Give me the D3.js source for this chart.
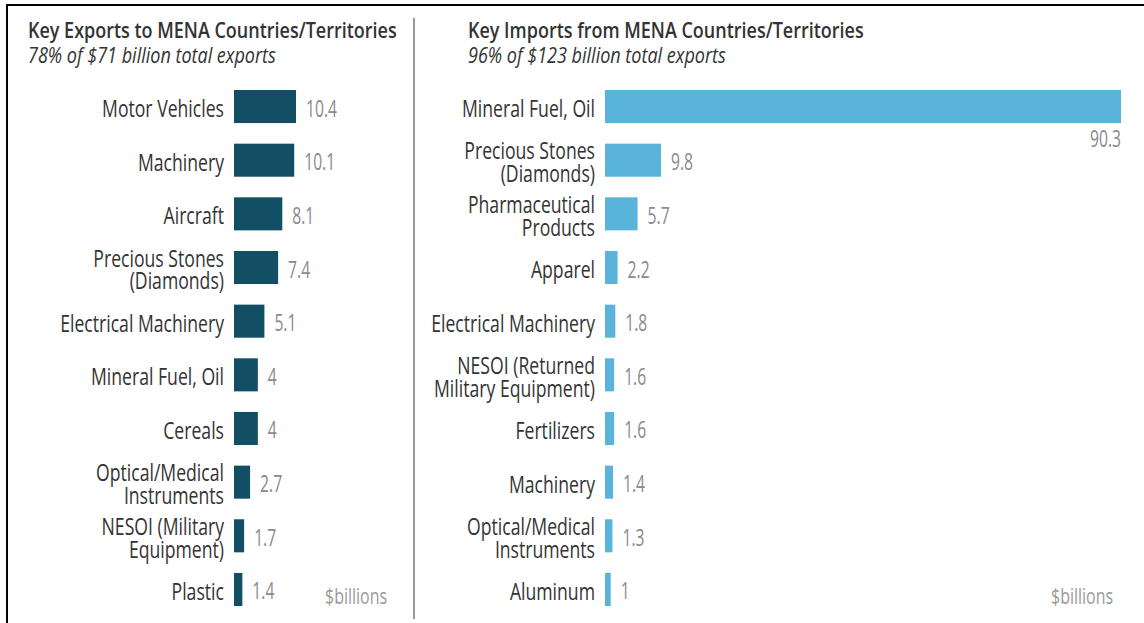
<!DOCTYPE html>
<html>
<head>
<meta charset="utf-8">
<script src="https://cdn.jsdelivr.net/npm/d3@7"></script>
<style>
  html, body { margin: 0; padding: 0; background: #fff; }
  svg { display: block; }
  text { font-family: "Open Sans", "Noto Sans", sans-serif; }
</style>
</head>
<body>
<svg id="chart" width="1144" height="623"></svg>
<script>
// ---- data ----
const exportCategories = ["Motor Vehicles", "Machinery", "Aircraft", "Precious Stones|(Diamonds)", "Electrical  Machinery", "Mineral Fuel, Oil", "Cereals", "Optical/Medical|Instruments", "NESOI (Military|Equipment)", "Plastic"];
const exportValues = [10.4, 10.1, 8.1, 7.4, 5.1, 4, 4, 2.7, 1.7, 1.4];
const exportLabels = ["10.4", "10.1", "8.1", "7.4", "5.1", "4", "4", "2.7", "1.7", "1.4"];

const importCategories = ["Mineral Fuel, Oil", "Precious Stones|(Diamonds)", "Pharmaceutical|Products", "Apparel", "Electrical  Machinery", "NESOI (Returned|Military Equipment)", "Fertilizers", "Machinery", "Optical/Medical|Instruments", "Aluminum"];
const importValues = [90.3, 9.8, 5.7, 2.2, 1.8, 1.6, 1.6, 1.4, 1.3, 1];
const importLabels = ["90.3", "9.8", "5.7", "2.2", "1.8", "1.6", "1.6", "1.4", "1.3", "1"];

const titles = ["Key Exports to MENA Countries/Territories", "Key Imports from MENA Countries/Territories"];
const subtitles = ["78% of $71 billion total exports", "96% of $123 billion total exports"];
const unitLabel = "$billions";

// ---- styles ----
const darkBar = "#124f64";
const lightBar = "#5ab3da";
const labelColor = "#333333";
const valueColor = "#8a8a8a";

const svg = d3.select("#chart");

// measure helper to emulate the condensed typeface by horizontal scaling
function measure(str, size, weight, style) {
  const t = svg.append("text").attr("font-size", size).attr("font-weight", weight || "normal")
    .attr("font-style", style || "normal").attr("x", -1000).attr("y", -1000).text(str);
  const w = t.node().getComputedTextLength();
  t.remove();
  return w;
}
const LBL = 23, VAL = 23, TTL = 22, UNIT = 21;
const kLabel = 122 / measure("Motor Vehicles", LBL);
const kValue = 31 / measure("10.4", VAL);
const kTitle = 369 / measure(titles[0], TTL, 600);
const kSub = 248 / measure(subtitles[0], TTL, "normal", "italic");
const kUnit = 62 / measure(unitLabel, UNIT);

function ctext(parent, x, y, k) {
  return parent.append("text").attr("transform", `translate(${x},${y}) scale(${k},1)`);
}

// frame
svg.append("line").attr("x1", 6).attr("x2", 1144).attr("y1", 5).attr("y2", 5)
  .attr("stroke", "#000").attr("stroke-width", 2);
svg.append("line").attr("x1", 7).attr("x2", 7).attr("y1", 4).attr("y2", 623)
  .attr("stroke", "#000").attr("stroke-width", 2);
// divider
svg.append("line").attr("x1", 414).attr("x2", 414).attr("y1", 18).attr("y2", 619)
  .attr("stroke", "#9a9a9a").attr("stroke-width", 2);

function panel(opts) {
  const g = svg.append("g");
  ctext(g, opts.titleX, 38, kTitle)
    .attr("font-size", TTL).attr("font-weight", 600).attr("fill", "#333")
    .text(opts.title);
  ctext(g, opts.titleX, 63, kSub)
    .attr("font-size", TTL).attr("font-style", "italic").attr("fill", "#333")
    .text(opts.subtitle);

  const y = d3.scaleBand().domain(opts.cats).range([90, 606]).paddingInner(0.384).paddingOuter(0);
  const x = d3.scaleLinear().domain([0, opts.maxV]).range([opts.x0, opts.x1]);
  const bw = y.bandwidth();

  const rows = g.selectAll("g.row").data(opts.cats.map((c, i) => ({c, v: opts.vals[i], l: opts.labels[i]})))
    .join("g").attr("class", "row");

  rows.append("rect")
    .attr("x", x(0)).attr("y", d => y(d.c))
    .attr("width", d => x(d.v) - x(0)).attr("height", bw)
    .attr("fill", opts.color);

  rows.each(function(d) {
    const row = d3.select(this);
    const lines = d.c.split("|");
    const cy = y(d.c) + bw / 2;
    const lh = 22.5;
    const base = cy + 10.5 - (lines.length - 1) * lh / 2;
    const t = ctext(row, x(0) - 10, base, kLabel)
      .attr("text-anchor", "end").attr("font-size", LBL).attr("fill", labelColor);
    lines.forEach((ln, i) => {
      t.append("tspan").attr("x", 0).attr("y", i * lh).text(ln);
    });
    const end = x(d.v);
    if (end + 50 > opts.limit) {
      ctext(row, end, y(d.c) + bw + 24, kValue).attr("text-anchor", "end")
        .attr("font-size", VAL).attr("fill", valueColor).text(d.l);
    } else {
      ctext(row, end + 10, cy + 10, kValue).attr("text-anchor", "start")
        .attr("font-size", VAL).attr("fill", valueColor).text(d.l);
    }
  });

  ctext(g, opts.unitX, 604, kUnit).attr("text-anchor", "end")
    .attr("font-size", UNIT).attr("fill", "#999").text(unitLabel);
}

panel({title: titles[0], subtitle: subtitles[0], titleX: 28, cats: exportCategories, vals: exportValues,
  labels: exportLabels, maxV: d3.max(exportValues), x0: 234, x1: 296, limit: 410, color: darkBar, unitX: 387});
panel({title: titles[1], subtitle: subtitles[1], titleX: 468, cats: importCategories, vals: importValues,
  labels: importLabels, maxV: d3.max(importValues), x0: 605, x1: 1121, limit: 1140, color: lightBar, unitX: 1113});
</script>
</body>
</html>
